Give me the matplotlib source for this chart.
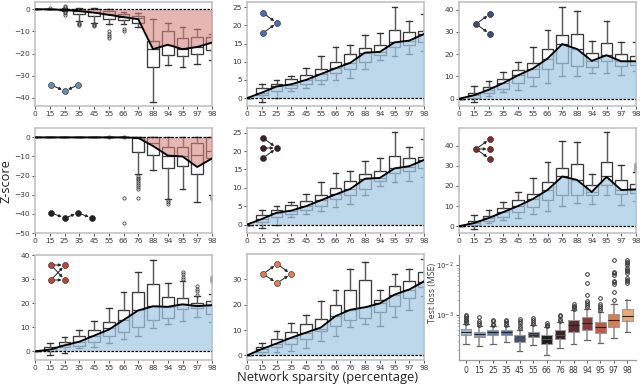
import matplotlib
matplotlib.use("Agg")
import matplotlib.pyplot as plt
from matplotlib.lines import Line2D
from matplotlib.patches import FancyArrowPatch
from matplotlib import transforms
from matplotlib.ticker import NullFormatter, LogLocator

labels = ["0", "15", "25", "35", "45", "55", "66", "76", "88", "94", "95", "97", "98"]

# Panel A (chain, blue-grey)
A_q1 = [0, 0, -0.5, -2, -2.8, -4.5, -5, -6, -26, -20.5, -21, -20, -18.5]
A_med = [0, 0, -0.1, -0.6, -1.2, -2.2, -3.5, -4, -18, -16, -18, -17, -15]
A_q3 = [0, 0, 0.3, 0.2, 0.3, -0.8, -2.3, -3, -14.5, -10, -12.8, -12.7, -12.7]
A_lo = [0, 0, -0.8, -5.5, -6, -6.8, -6.8, -8.2, -42, -25, -26.2, -24.5, -23]
A_hi = [0, 0, 0.6, 0.8, 0.8, 0, -1, -1.8, -4.5, -6.2, -8, -9, -11]
A_fl = [[], [0.6], [1.6, 1, -1, -1.8, -2.6], [-6, -6.5, -7], [-6.5, -7, -7.6], [-10, -11, -12, -13], [-9, -10], [], [], [], [], [], []]
A_mean = [0, 0, -0.3, -0.8, -1.5, -2.5, -3.5, -4.5, -18, -16, -18, -17, -15]

# Panel D (long chain, black)
D_q1 = [0, 0, 0, 0, 0, 0, 0, -7.5, -9, -16, -15, -19, -11]
D_med = [0, 0, 0, 0, 0, 0, 0, -0.5, -3, -10, -10, -9, -7]
D_q3 = [0, 0, 0, 0, 0, 0, 0, 0, 0, -5, -5, -3, 0]
D_lo = [0, 0, 0, 0, 0, 0, 0, -19, -17, -32, -27, -34, -30]
D_hi = [0, 0, 0, 0, 0, 0, 0, 0.3, 0, 0, 0, 0, 0]
D_fl = [[], [], [], [], [], [0], [0.2, -31.5, -45], [-20, -21, -22, -23, -24, -25, -26, -27, -31.5], [], [-33, -34, -35], [], [], [-31, -32]]
D_mean = [0, 0, 0, 0, 0, 0, 0, -0.3, -4.5, -9.5, -10, -15.5, -11]

# Panel G (bi-fan, red)
G_q1 = [0, 0.2, 2, 2.2, 4, 6.2, 8, 10, 13, 14, 17.5, 17.8, 15.5]
G_med = [0, 0.8, 2.5, 4, 6.5, 9.5, 13, 17, 19, 18.5, 19.5, 19, 19]
G_q3 = [0, 1.7, 3.7, 6.5, 8.8, 12.3, 17, 24.8, 27.8, 22.5, 22.3, 20, 21]
G_lo = [0, -1.5, -0.8, 1.2, 2, 3.3, 5, 6.3, 9.5, 11.5, 12.7, 14.2, 12]
G_hi = [0, 3.3, 6, 9, 12.5, 18, 24.8, 33, 38, 28.5, 29, 23, 24]
G_fl = [[], [], [], [], [], [], [], [], [], [], [30, 31, 32, 33], [23.5, 25, 26, 27], [29, 30, 31]]
G_mean = [0, 0.7, 2.5, 4, 6.5, 9, 13, 17, 18.7, 18.5, 19.5, 18.8, 19.2]

# Panel B (convergent, blue)
B_q1 = [0, 0.8, 2, 2.7, 3.9, 5, 7, 8, 9.8, 11.8, 14, 14.6, 15.3]
B_med = [0, 1.5, 3.2, 3.7, 5, 6.5, 8.2, 9.7, 12.5, 12.7, 15.3, 15.8, 17.5]
B_q3 = [0, 2.7, 4, 5.3, 6.4, 8, 10, 12, 13.7, 14.6, 18.7, 18.1, 18.4]
B_lo = [0, -1, 0, 2, 2.8, 3.8, 4.9, 5.4, 7.9, 10.5, 11.5, 12, 12.9]
B_hi = [0, 3.9, 5, 6.1, 8.3, 11.7, 14, 14.5, 17.3, 17.9, 25, 21.1, 23.2]
B_mean = [0, 1.5, 3.2, 3.8, 5, 6.6, 8.2, 9.7, 12.5, 12.7, 15.3, 15.8, 17.6]

# Panel E (three-into-one, dark maroon)
E_q1 = [0, 0.8, 2, 2.8, 3.9, 5, 7, 8, 9.8, 11.8, 14, 14.6, 15.3]
E_med = [0, 1.5, 3.2, 3.8, 5, 6.6, 8.2, 9.7, 12.5, 12.7, 15.3, 15.8, 17.5]
E_q3 = [0, 2.7, 4, 5.3, 6.4, 8, 10, 12, 13.7, 14.7, 18.7, 18.1, 18.5]
E_lo = [0, -1, 0, 2, 2.8, 3.7, 4.9, 5.5, 8, 10.5, 11.5, 12, 12.9]
E_hi = [0, 3.9, 5, 6.2, 8.4, 11.7, 14, 14.5, 17.4, 18, 25.2, 21.2, 23.3]
E_mean = [0, 1.5, 3.2, 3.8, 5, 6.6, 8.2, 9.7, 12.5, 12.7, 15.3, 15.9, 17.6]

# Panel H (diamond, orange)
H_q1 = [0, 1.5, 3.5, 4.7, 6.3, 9.5, 11.5, 14, 14.7, 17.3, 19.3, 22.5, 27]
H_med = [0, 2.5, 4.5, 6.8, 9, 10.5, 15.5, 18, 19, 20.5, 24, 26, 29]
H_q3 = [0, 3.5, 6.5, 9.3, 12.5, 14.5, 20, 26, 29.7, 22, 27.3, 29.3, 33]
H_lo = [0, 0, 1.2, 1.9, 2.8, 5.5, 7.5, 11.2, 12.5, 11.7, 15, 18, 23.5]
H_hi = [0, 5, 9.5, 12.7, 16, 21.5, 26, 34, 37, 26, 32, 34.2, 38]
H_mean = [0, 2.5, 4.7, 7, 9, 11, 15.5, 18, 19, 20.5, 24, 26, 29.2]

# Panel C (divergent, navy)
C_q1 = [0, 0.5, 2.5, 4.5, 7.2, 9.7, 13.5, 16, 14.8, 14.3, 17, 14.5, 15]
C_med = [0, 1.5, 3.8, 7, 10.5, 13.5, 18, 24.5, 22.5, 17, 19.5, 16.7, 16.7]
C_q3 = [0, 2.5, 5.2, 9, 12.7, 16, 22.2, 28.6, 29, 20.7, 25.2, 20, 19]
C_lo = [0, -1.5, 1, 2.9, 3.8, 5.5, 7.2, 10, 10.3, 11.6, 11.7, 10.5, 12.5]
C_hi = [0, 5.5, 8, 12.2, 16.5, 23.3, 30.7, 41.3, 39.5, 25.7, 35, 25.5, 25.5]
C_mean = [0, 1.5, 4, 7, 10.5, 13.5, 18, 24.5, 22.3, 17, 19.5, 16.8, 16.8]

# Panel F (one-to-three, maroon)
F_q1 = [0, 0.8, 2.5, 4.5, 7, 9.5, 13, 15.7, 15.7, 15.7, 20.7, 16.2, 16.5]
F_med = [0, 1.5, 4, 7, 10, 13.5, 18, 24.7, 23, 17, 24.7, 18, 18]
F_q3 = [0, 2.5, 5.2, 9, 12.8, 16, 22, 29, 30.7, 20.7, 32, 23, 21]
F_lo = [0, -1.3, 1.5, 3, 4, 5.8, 7.3, 9.8, 11.5, 11, 15.3, 10.7, 12.5]
F_hi = [0, 5.5, 8, 12.2, 16.8, 23.7, 31.7, 42.5, 41.7, 25.7, 46.7, 30.3, 27]
F_fl = [[], [], [], [], [], [], [], [], [], [], [], [], [28, 29, 30, 31]]
F_mean = [0, 1.5, 4, 7, 10, 13.5, 18, 24.7, 23, 17, 24.5, 18, 18.3]

# Panel I (test loss, in units of 1e-3)
I_q1 = [.392, .358, .392, .40, .284, .363, .263, .326, .45, .50, .43, .585, .75]
I_med = [.457, .417, .45, .45, .336, .417, .326, .404, .64, .71, .57, .82, .98]
I_q3 = [.517, .47, .50, .51, .392, .464, .392, .50, .81, .90, .735, 1.05, 1.36]
I_lo = [.263, .243, .27, .293, .19, .255, .156, .222, .27, .316, .28, .35, .45]
I_hi = [.66, .60, .60, .60, .50, .63, .57, .74, 1.3, 1.34, 1.17, 1.71, 2.06]
I_fl = [[.70, .76, .82, .88, .95, 1.03], [.65, .70, .75, .93], [.63, .68, .75, .79], [.63, .70, .75, .80],
        [.55, .62, .70, .78, .83], [.68, .74, .80, .86], [.60, .65, .70], [.78, .85, .95, 1.03],
        [1.35, 1.45, 1.55, 1.65], [1.45, 1.6, 1.75, 1.9, 2.55, 4.4, 6.7], [1.25, 1.4, 1.55, 1.7, 2.2],
        [2.0, 2.9, 4.3, 4.6, 4.9, 6.5, 7, 7.5, 12.8],
        [4.5, 4.8, 5.2, 5.6, 7, 7.6, 8.2, 9, 10, 11, 12, 13]]
I_colors = ["#9FB9CE", "#7C9DC2", "#5C83BE", "#4F78BC", "#3A4E70", "#2A3342", "#1B1B1B",
            "#3A2226", "#5B2C30", "#863C3E", "#BE5A4A", "#D97E55", "#E8A875"]

W, H = 640, 385
fig = plt.figure(figsize=(6.4, 3.85), dpi=100)
px = transforms.Affine2D().scale(1 / W, -1 / H).translate(0, 1) + fig.transFigure
TXT = "#3A3A3A"
SP = "#BDBDBD"


def mkax(x0, x1, y0, y1):
    return fig.add_axes([x0 / W, 1 - y1 / H, (x1 - x0) / W, (y1 - y0) / H])


def stats(q1, med, q3, lo, hi, fl=None):
    fl = fl or [[] for _ in q1]
    return [dict(q1=a, med=m, q3=b, whislo=l, whishi=h, fliers=f)
            for a, m, b, l, h, f in zip(q1, med, q3, lo, hi, fl)]


def style(ax, ticks, ylim):
    ax.set_xlim(0, 12)
    ax.set_ylim(*ylim)
    ax.set_yticks(ticks)
    ax.set_xticks(range(13))
    ax.set_xticklabels(labels)
    ax.tick_params(labelsize=5.4, length=2, width=0.6, pad=1.5, colors=TXT)
    for s in ax.spines.values():
        s.set_color(SP)
        s.set_linewidth(1.1)


def panel(box, st, mean, ticks, ylim, neg=False):
    ax = mkax(*box)
    ax.bxp(st, positions=range(13), widths=0.8, patch_artist=True, manage_ticks=False,
           boxprops=dict(facecolor="white", edgecolor="#3A3A3A", linewidth=0.95),
           medianprops=dict(color="#3A3A3A", linewidth=0.9),
           whiskerprops=dict(color="#5A5A5A", linewidth=1.05),
           capprops=dict(color="#333333", linewidth=0.95),
           flierprops=dict(marker="o", markersize=2.3, markerfacecolor="none",
                           markeredgecolor="#444444", markeredgewidth=0.6))
    col, alpha = ("#D4837B", 0.58) if neg else ("#A2C9E2", 0.72)
    ax.fill_between(range(13), mean, 0, color=col, alpha=alpha, linewidth=0, zorder=4)
    ax.plot(range(13), mean, color="black", lw=1.35, zorder=5)
    ax.axhline(0, color="black", lw=0.9, ls=(0, (2, 1.2)), zorder=5)
    style(ax, ticks, ylim)
    return ax


cols = [(35, 212), (247, 424), (459, 636)]
rows = [(2, 106.5), (128, 233), (255, 360)]
t10 = [0, 10, 20, 30, 40]

panel((*cols[0], *rows[0]), stats(A_q1, A_med, A_q3, A_lo, A_hi, A_fl), A_mean, [0, -10, -20, -30, -40], (-43.9, 3.3), True)
panel((*cols[0], *rows[1]), stats(D_q1, D_med, D_q3, D_lo, D_hi, D_fl), D_mean, [0, -10, -20, -30, -40, -50], (-50, 4.9), True)
panel((*cols[0], *rows[2]), stats(G_q1, G_med, G_q3, G_lo, G_hi, G_fl), G_mean, t10, (-3.6, 40))
panel((*cols[1], *rows[0]), stats(B_q1, B_med, B_q3, B_lo, B_hi), B_mean, [0, 5, 10, 15, 20, 25], (-2.3, 26.4))
panel((*cols[1], *rows[1]), stats(E_q1, E_med, E_q3, E_lo, E_hi), E_mean, [0, 5, 10, 15, 20, 25], (-2.3, 26.3))
panel((cols[1][0], cols[1][1], 254, 360), stats(H_q1, H_med, H_q3, H_lo, H_hi), H_mean, [0, 10, 20, 30], (-1.8, 40))
panel((*cols[2], *rows[0]), stats(C_q1, C_med, C_q3, C_lo, C_hi), C_mean, t10, (-3.5, 43.4))
panel((*cols[2], *rows[1]), stats(F_q1, F_med, F_q3, F_lo, F_hi, F_fl), F_mean, t10, (-3.4, 48.8))

# log panel
ax = mkax(*cols[2], *rows[2])
scale = 1e-3
st = stats([v * scale for v in I_q1], [v * scale for v in I_med], [v * scale for v in I_q3],
           [v * scale for v in I_lo], [v * scale for v in I_hi],
           [[v * scale for v in f] for f in I_fl])
res = ax.bxp(st, positions=range(13), widths=0.8, patch_artist=True, manage_ticks=False,
             boxprops=dict(linewidth=0.8, edgecolor="#9A9A9A"),
             medianprops=dict(linewidth=0.8),
             whiskerprops=dict(color="#8A8A8A", linewidth=1.1),
             capprops=dict(color="#666666", linewidth=0.9),
             flierprops=dict(marker="o", markersize=2.6, markerfacecolor="none",
                             markeredgecolor="#333333", markeredgewidth=0.7))
for b, m, c in zip(res["boxes"], res["medians"], I_colors):
    b.set_facecolor(c)
    m.set_color("#222222" if c not in I_colors[4:8] else "#555555")
ax.set_yscale("log")
ax.set_xlim(-0.52, 12.65)
ax.set_ylim(10 ** -3.9, 10 ** -1.79)
ax.set_yticks([1e-3, 1e-2])
ax.yaxis.set_minor_locator(LogLocator(base=10, subs=range(2, 10), numticks=10))
ax.yaxis.set_minor_formatter(NullFormatter())
ax.set_xticks(range(13))
ax.set_xticklabels(labels)
ax.tick_params(labelsize=5.6, length=2, width=0.6, pad=2, colors=TXT)
ax.tick_params(axis="y", which="major", labelsize=5.0, pad=1.5)
ax.tick_params(which="minor", length=1.2, width=0.4, colors="#777777")
for s in ("top", "right"):
    ax.spines[s].set_visible(False)
for s in ("left", "bottom"):
    ax.spines[s].set_color("#999999")
    ax.spines[s].set_linewidth(0.9)


def motif(nodes, edges, color):
    for a, b in edges:
        fig.add_artist(FancyArrowPatch(nodes[a], nodes[b], transform=px, arrowstyle="-|>",
                                       mutation_scale=4, lw=0.7, color="#222222",
                                       shrinkA=2.5, shrinkB=2.5, zorder=20))
    for n in nodes:
        fig.add_artist(Line2D([n[0]], [n[1]], transform=px, marker="o", markersize=4.3,
                              markerfacecolor=color, markeredgecolor="#222222",
                              markeredgewidth=0.4, zorder=21))


motif([(51, 85), (65, 91), (78, 85)], [(0, 1), (2, 1)], "#6F8CA5")
motif([(51, 213), (65, 218), (78, 213), (92, 218)], [(0, 1), (1, 2), (2, 3)], "#222222")
motif([(51, 265), (65, 265), (51, 280), (65, 280)], [(0, 1), (2, 3), (0, 3), (2, 1)], "#B5493B")
motif([(263, 13), (277, 23), (263, 33)], [(0, 1), (2, 1)], "#4A70B0")
motif([(263, 138), (263, 148), (263, 158), (277, 148)], [(0, 3), (1, 3), (2, 3)], "#3A2226")
motif([(263, 274), (277, 264), (291, 274), (277, 283)], [(0, 1), (0, 3), (1, 2), (3, 2)], "#E07F55")
motif([(476, 24), (490, 14), (490, 34)], [(0, 1), (0, 2)], "#3B4B7A")
motif([(476, 149), (490, 139), (490, 149), (490, 159)], [(0, 1), (0, 2), (0, 3)], "#7A2E30")

fig.text(6.5 / W, 1 - 181 / H, "Z-score", rotation=90, ha="center", va="center",
         fontsize=9.2, family="Open Sans", color="#222222")
fig.text(328 / W, 1 - 377.5 / H, "Network sparsity (percentage)", ha="center", va="center",
         fontsize=9.3, family="Open Sans", color="#222222")
fig.text(432.5 / W, 1 - 293 / H, "Test loss (MSE)", rotation=90, ha="center", va="center",
         fontsize=6.2, family="Open Sans", color=TXT)

fig.savefig("out.png", dpi=100)
